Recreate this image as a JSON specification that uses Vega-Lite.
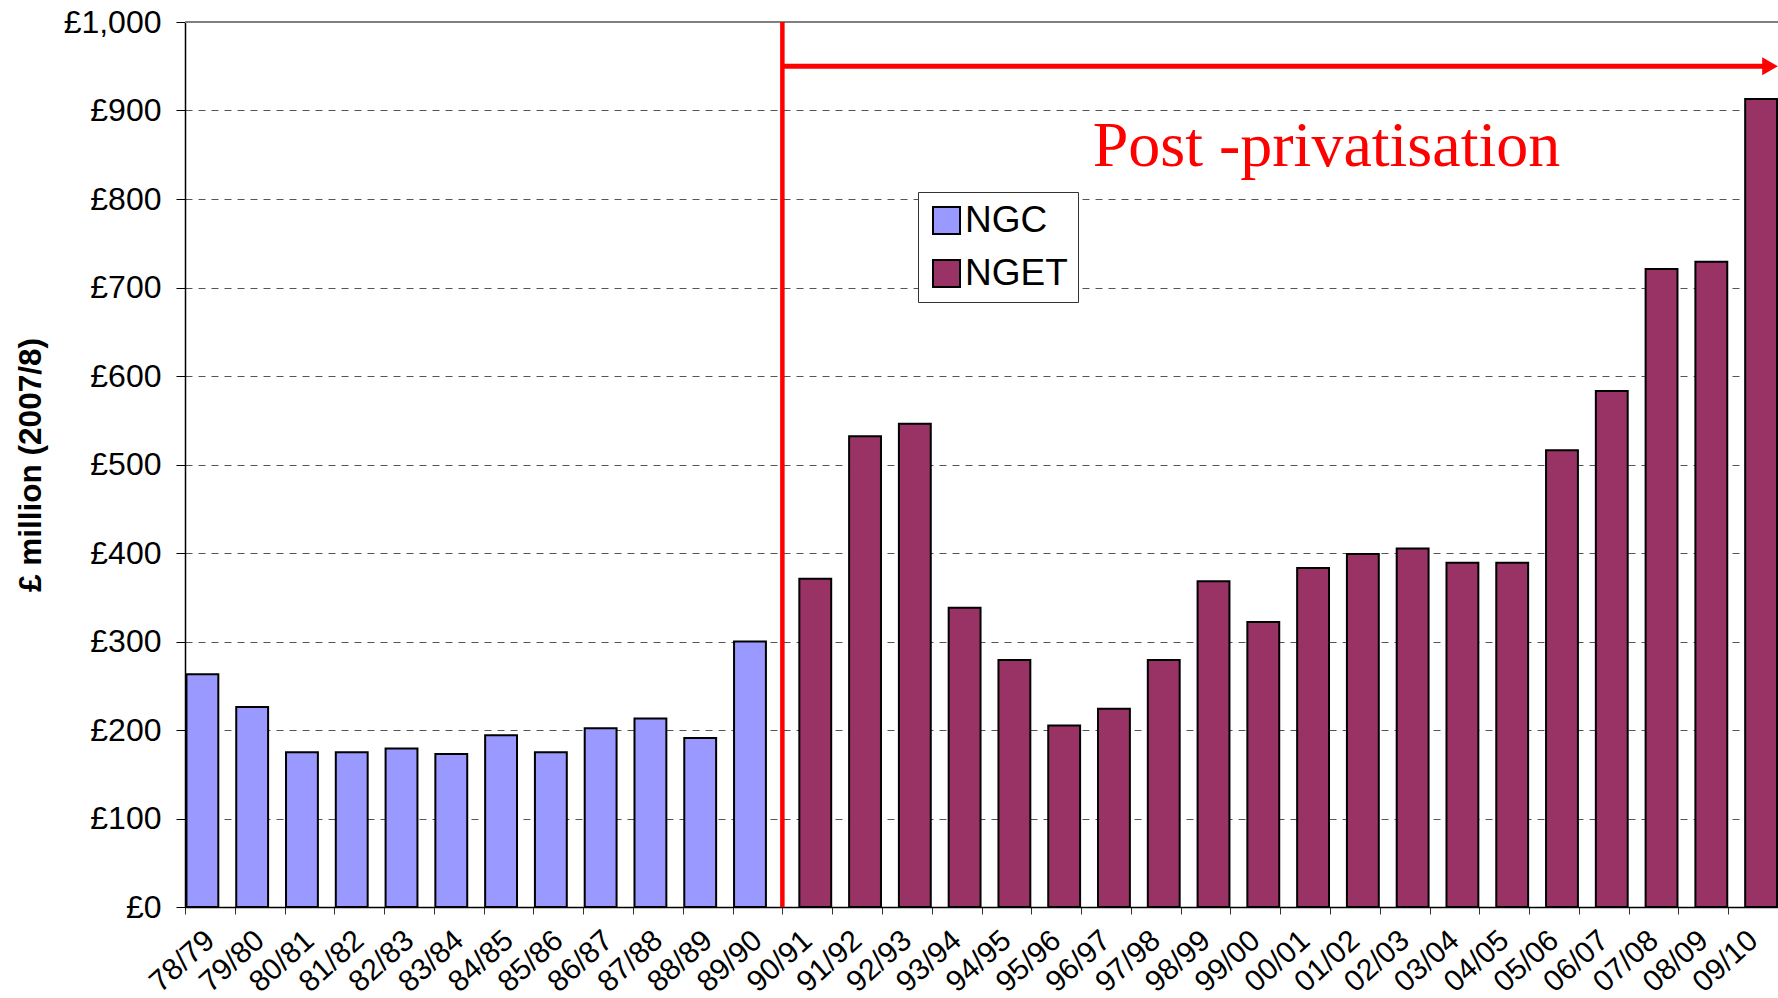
{
  "$schema": "https://vega.github.io/schema/vega-lite/v6.json",
  "width": 1593,
  "height": 885,
  "autosize": {"type": "none"},
  "padding": {"left": 185, "top": 22, "right": 0, "bottom": 91},
  "background": "white",
  "config": {
    "view": {"stroke": null},
    "font": "Liberation Sans",
    "locale": {"number": {"decimal": ".", "thousands": ",", "grouping": [3], "currency": ["£", ""]}}
  },
  "datasets": {
    "bars": [
      {"period": "78/79", "series": "NGC", "value": 263},
      {"period": "79/80", "series": "NGC", "value": 226},
      {"period": "80/81", "series": "NGC", "value": 175},
      {"period": "81/82", "series": "NGC", "value": 175},
      {"period": "82/83", "series": "NGC", "value": 179},
      {"period": "83/84", "series": "NGC", "value": 173},
      {"period": "84/85", "series": "NGC", "value": 194},
      {"period": "85/86", "series": "NGC", "value": 175},
      {"period": "86/87", "series": "NGC", "value": 202},
      {"period": "87/88", "series": "NGC", "value": 213},
      {"period": "88/89", "series": "NGC", "value": 191},
      {"period": "89/90", "series": "NGC", "value": 300},
      {"period": "90/91", "series": "NGET", "value": 371},
      {"period": "91/92", "series": "NGET", "value": 532},
      {"period": "92/93", "series": "NGET", "value": 546},
      {"period": "93/94", "series": "NGET", "value": 338},
      {"period": "94/95", "series": "NGET", "value": 279},
      {"period": "95/96", "series": "NGET", "value": 205},
      {"period": "96/97", "series": "NGET", "value": 224},
      {"period": "97/98", "series": "NGET", "value": 279},
      {"period": "98/99", "series": "NGET", "value": 368},
      {"period": "99/00", "series": "NGET", "value": 322},
      {"period": "00/01", "series": "NGET", "value": 383},
      {"period": "01/02", "series": "NGET", "value": 399},
      {"period": "02/03", "series": "NGET", "value": 405},
      {"period": "03/04", "series": "NGET", "value": 389},
      {"period": "04/05", "series": "NGET", "value": 389},
      {"period": "05/06", "series": "NGET", "value": 516},
      {"period": "06/07", "series": "NGET", "value": 583},
      {"period": "07/08", "series": "NGET", "value": 721},
      {"period": "08/09", "series": "NGET", "value": 729},
      {"period": "09/10", "series": "NGET", "value": 913}
    ]
  },
  "layer": [
    {
      "data": {"name": "bars"},
      "transform": [{"filter": "datum.series == 'NGC'"}],
      "mark": {"type": "bar", "xOffset": -7.5, "width": {"band": 0.64}, "stroke": "black", "strokeWidth": 2},
      "encoding": {
        "x": {
          "field": "period", "type": "nominal",
          "scale": {"domain": ["78/79","79/80","80/81","81/82","82/83","83/84","84/85","85/86","86/87","87/88","88/89","89/90","90/91","91/92","92/93","93/94","94/95","95/96","96/97","97/98","98/99","99/00","00/01","01/02","02/03","03/04","04/05","05/06","06/07","07/08","08/09","09/10"], "paddingInner": 0, "paddingOuter": 0},
          "axis": {
            "title": null, "tickBand": "extent", "tickSize": 7, "tickColor": "#333333", "tickWidth": 1,
            "domainColor": "black", "domainWidth": 1.5,
            "labelAngle": -42, "labelAlign": "right", "labelBaseline": "middle",
            "labelFont": "Liberation Sans", "labelFontSize": 30, "labelColor": "black", "labelPadding": 22,
            "labelOverlap": false, "labelBound": false, "grid": false
          }
        },
        "y": {
          "field": "value", "type": "quantitative",
          "scale": {"domain": [0, 1000], "nice": false},
          "axis": {
            "title": "£ million (2007/8)", "titleFont": "Liberation Sans", "titleFontSize": 31.5, "titleFontWeight": "bold", "titleColor": "black", "titlePadding": 16,
            "values": [0,100,200,300,400,500,600,700,800,900,1000],
            "format": "$,.0f",
            "labelFont": "Liberation Sans", "labelFontSize": 32, "labelColor": "black", "labelPadding": 15,
            "tickSize": 9, "tickColor": "black", "domainColor": "black", "domainWidth": 1.5,
            "grid": true, "gridColor": "#555555", "gridDash": [7, 6], "gridWidth": 1
          }
        },
        "color": {
          "field": "series", "type": "nominal",
          "scale": {"domain": ["NGC", "NGET"], "range": ["#9999FF", "#993366"]},
          "legend": {
            "orient": "none", "legendX": 733, "legendY": 170, "title": null,
            "symbolType": "square", "symbolSize": 729, "symbolStrokeColor": "black", "symbolStrokeWidth": 2, "symbolOpacity": 1,
            "labelFont": "Liberation Sans", "labelFontSize": 37, "labelColor": "black", "labelOffset": 0, "labelLimit": 0,
            "rowPadding": 15, "padding": 10, "strokeColor": "#333333", "fillColor": "white"
          }
        }
      }
    },
    {
      "data": {"name": "bars"},
      "transform": [{"filter": "datum.series == 'NGET'"}],
      "mark": {"type": "bar", "xOffset": 8, "width": {"band": 0.64}, "stroke": "black", "strokeWidth": 2},
      "encoding": {
        "x": {
          "field": "period", "type": "nominal",
          "scale": {"domain": ["78/79","79/80","80/81","81/82","82/83","83/84","84/85","85/86","86/87","87/88","88/89","89/90","90/91","91/92","92/93","93/94","94/95","95/96","96/97","97/98","98/99","99/00","00/01","01/02","02/03","03/04","04/05","05/06","06/07","07/08","08/09","09/10"], "paddingInner": 0, "paddingOuter": 0},
          "axis": null
        },
        "y": {"field": "value", "type": "quantitative", "scale": {"domain": [0, 1000], "nice": false}, "axis": null},
        "color": {"field": "series", "type": "nominal", "scale": {"domain": ["NGC", "NGET"], "range": ["#9999FF", "#993366"]}, "legend": null}
      }
    },
    {
      "data": {"values": [{}]},
      "mark": {"type": "rule", "color": "#808080", "strokeWidth": 2},
      "encoding": {
        "y": {"datum": 1000, "type": "quantitative", "scale": {"domain": [0, 1000], "nice": false}, "axis": null}
      }
    },
    {
      "data": {"values": [{}]},
      "mark": {"type": "rule", "color": "#FF0000", "strokeWidth": 4.5},
      "encoding": {
        "x": {"datum": 12, "type": "quantitative", "scale": {"domain": [0, 32], "nice": false, "zero": false}, "axis": null}
      }
    },
    {
      "data": {"values": [{}]},
      "mark": {"type": "rule", "color": "#FF0000", "strokeWidth": 5},
      "encoding": {
        "x": {"datum": 12, "type": "quantitative", "scale": {"domain": [0, 32], "nice": false, "zero": false}, "axis": null},
        "x2": {"datum": 31.7},
        "y": {"datum": 950, "type": "quantitative", "scale": {"domain": [0, 1000], "nice": false}, "axis": null}
      }
    },
    {
      "data": {"values": [{}]},
      "mark": {"type": "point", "shape": "triangle-right", "filled": true, "color": "#FF0000", "size": 330, "opacity": 1},
      "encoding": {
        "x": {"datum": 31.84, "type": "quantitative", "scale": {"domain": [0, 32], "nice": false, "zero": false}, "axis": null},
        "y": {"datum": 950, "type": "quantitative", "scale": {"domain": [0, 1000], "nice": false}, "axis": null}
      }
    },
    {
      "data": {"values": [{}]},
      "mark": {"type": "text", "text": "Post -privatisation", "align": "left", "baseline": "alphabetic", "font": "Liberation Serif", "fontSize": 64, "color": "#FF0000"},
      "encoding": {
        "x": {"datum": 18.234, "type": "quantitative", "scale": {"domain": [0, 32], "nice": false, "zero": false}, "axis": null},
        "y": {"datum": 837, "type": "quantitative", "scale": {"domain": [0, 1000], "nice": false}, "axis": null}
      }
    }
  ],
  "resolve": {"scale": {"x": "independent"}, "axis": {"x": "independent", "y": "independent"}}
}
